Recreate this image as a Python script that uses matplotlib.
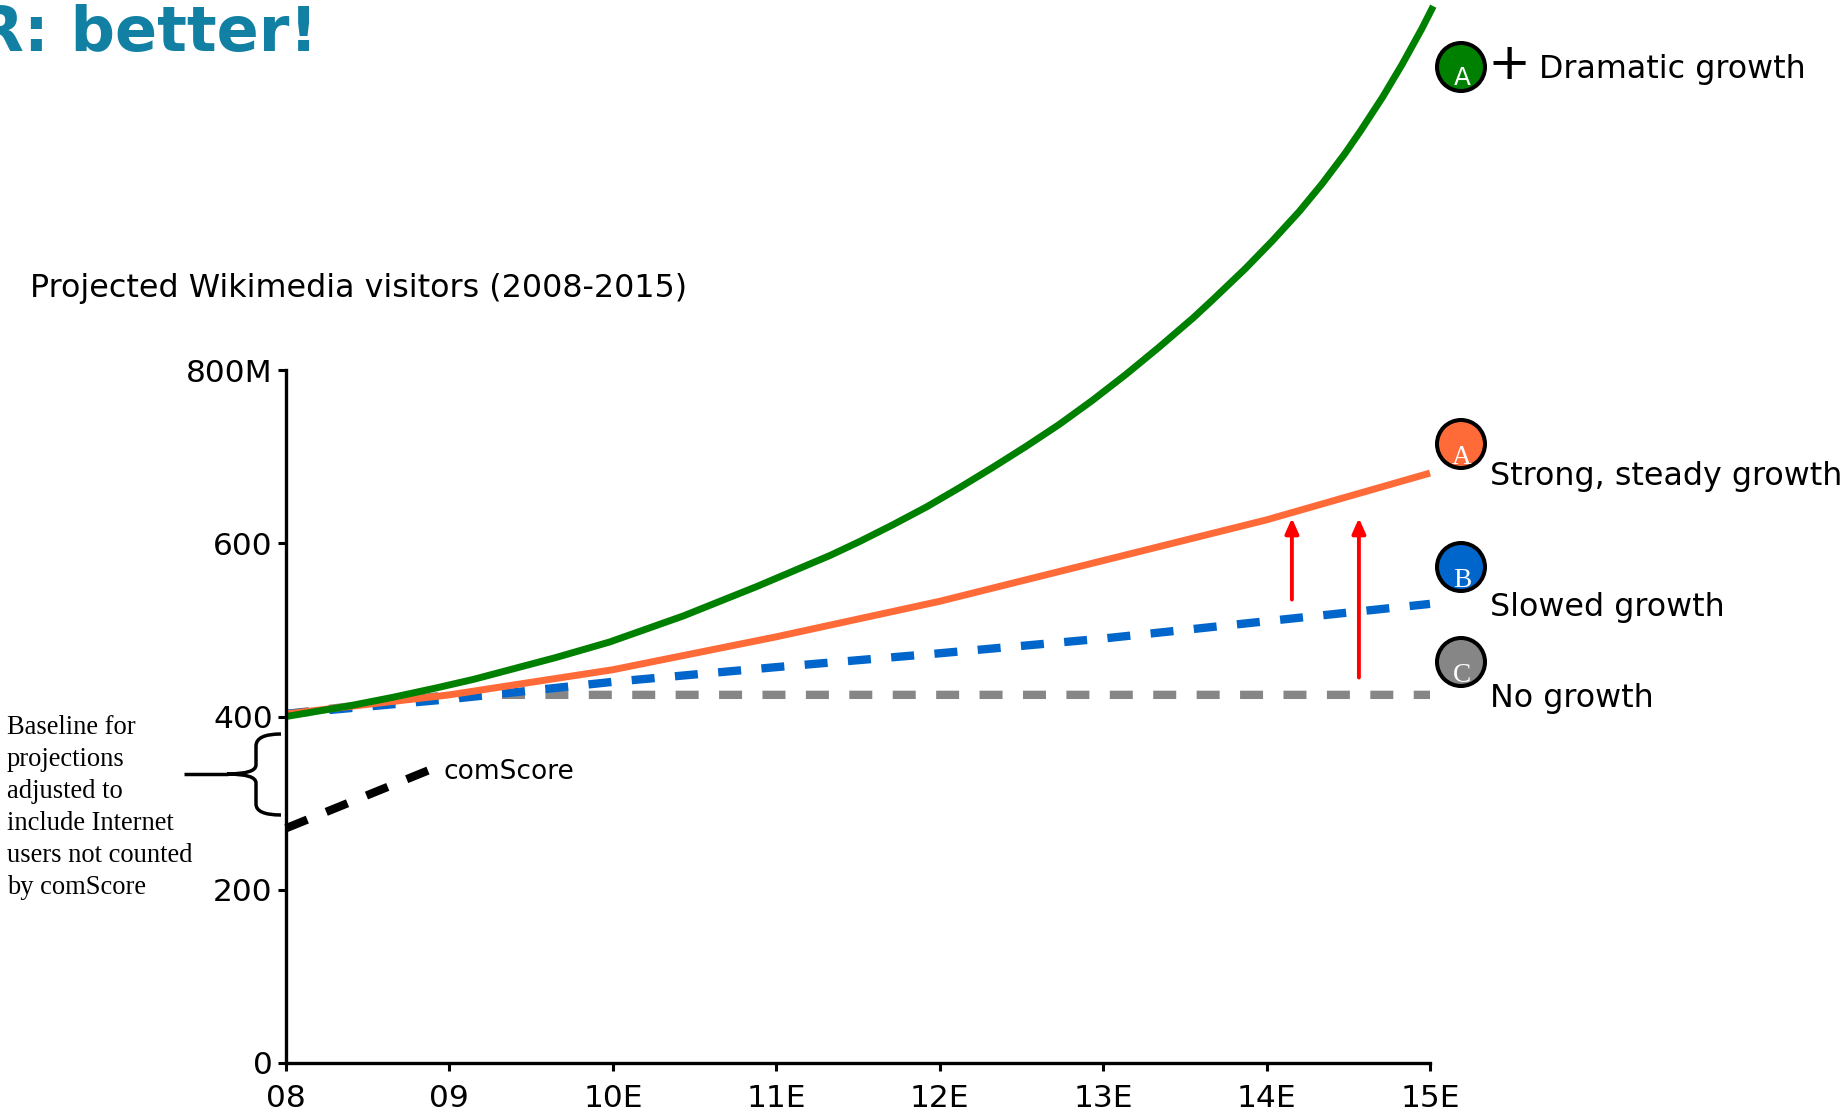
import matplotlib
matplotlib.use('Agg')
import matplotlib.pyplot as plt
from matplotlib.patches import PathPatch, Circle
from matplotlib.path import Path

W, H = 1849, 1115

# years on the x axis, 8 = 2008
years = [8, 9, 10, 11, 12, 13, 14, 15]
year_labels = ['08', '09', '10E', '11E', '12E', '13E', '14E', '15E']
y_ticks = [0, 200, 400, 600, 800]
y_labels = ['0', '200', '400', '600', '800M']

green_x = [8.0, 8.38, 8.65, 8.92, 9.15, 9.37, 9.65, 9.98, 10.43, 10.88, 11.33, 11.51, 11.71, 11.92, 12.12, 12.32,
           12.53, 12.73, 12.935, 13.14, 13.34, 13.55, 13.67, 13.87, 14.035, 14.2, 14.34, 14.48, 14.575,
           14.71, 14.83, 14.95, 15.02]
green_y = [400, 412, 422, 433, 443, 454, 468, 486, 516, 550, 586, 602, 621, 642, 664, 687,
           712, 737, 765, 795, 826, 860, 881, 917, 949, 983, 1015, 1050, 1076,
           1115, 1153, 1194, 1220]
orange_y = [403, 425, 454, 492, 533, 580, 627, 681]
blue_y = [403, 420, 440, 457, 473, 490, 510, 530]
grey_x = [8, 9, 15]
grey_y = [403, 425, 425]
comscore_x = [8, 8.9]
comscore_y = [271, 340]

GREEN = '#008000'
ORANGE = '#ff6a39'
BLUE = '#0066cc'
GREY = '#868686'
TEAL = '#1280a3'
DASH = (2.76, 2.45)


def px(x, y):
    # reference pixels to figure fraction
    return x / W, 1 - y / H


fig = plt.figure(figsize=(W / 100, H / 100), dpi=100)
ax = fig.add_axes([286 / W, (H - 1063) / H, (1430 - 286) / W, 693 / H])

ax.plot(grey_x, grey_y, color=GREY, lw=6, dashes=DASH, dash_capstyle='butt', clip_on=False)
ax.plot(years, blue_y, color=BLUE, lw=6, dashes=DASH, dash_capstyle='butt', clip_on=False)
ax.plot(years, orange_y, color=ORANGE, lw=5, clip_on=False, solid_capstyle='butt')
ax.plot(green_x, green_y, color=GREEN, lw=5, clip_on=False, solid_capstyle='butt')
ax.plot(comscore_x, comscore_y, color='black', lw=6, dashes=DASH, dash_capstyle='butt', clip_on=False)

# red arrows between scenarios
for ax_x, y0, y1 in [(14.155, 535, 629), (14.565, 445, 629)]:
    ax.annotate('', xy=(ax_x, y1), xytext=(ax_x, y0),
                arrowprops=dict(arrowstyle='-|>,head_length=0.45,head_width=0.2', color='red', lw=2.8,
                                shrinkA=0, shrinkB=0, mutation_scale=20))

ax.set_xlim(8, 15)
ax.set_ylim(0, 800)
ax.set_xticks(years)
ax.set_xticklabels(year_labels)
ax.set_yticks(y_ticks)
ax.set_yticklabels(y_labels)
ax.tick_params(axis='both', width=2.2, length=6, labelsize=22.5)
ax.tick_params(axis='x', pad=9)
ax.tick_params(axis='y', pad=3.5)
ax.spines['top'].set_visible(False)
ax.spines['right'].set_visible(False)
ax.spines['left'].set_linewidth(2.4)
ax.spines['bottom'].set_linewidth(2.4)

# heading cut off by the slide edge
fig.text(*px(318, 51.5), 'R: better!', color=TEAL, fontsize=44.7, fontweight='bold', ha='right', va='baseline')
fig.text(*px(30, 297), 'Projected Wikimedia visitors (2008-2015)', fontsize=22.9, va='baseline')
fig.text(*px(444, 779), 'comScore', fontsize=19, va='baseline')

note = ['Baseline for', 'projections', 'adjusted to', 'include Internet', 'users not counted', 'by comScore']
for i, line in enumerate(note):
    fig.text(*px(7, 734 + i * 32), line, fontsize=19.1, family='Liberation Serif', va='baseline')

# scenario markers
markers = [(1461, 67, GREEN, 'A', 18, 'DejaVu Sans', 17.7), (1461, 444, ORANGE, 'A', 20, 'Liberation Serif', 19.6),
           (1461, 567, BLUE, 'B', 20, 'Liberation Serif', 19.6), (1461, 662, GREY, 'C', 20, 'Liberation Serif', 19.6)]
for cx, cy, col, letter, drop, fam, size in markers:
    fig.add_artist(Circle((cx, H - cy), 24, facecolor=col, edgecolor='black', lw=2.9, transform=None))
    fig.text(*px(cx + 1, cy + drop), letter, color='white', fontsize=size, family=fam,
             ha='center', va='baseline')

fig.text(*px(1488, 79), '+', fontsize=37, va='baseline')
fig.text(*px(1539, 78), 'Dramatic growth', fontsize=22.9, va='baseline')
fig.text(*px(1490, 485), 'Strong, steady growth', fontsize=22.9, va='baseline')
fig.text(*px(1490, 616), 'Slowed growth', fontsize=22.9, va='baseline')
fig.text(*px(1490, 707), 'No growth', fontsize=22.9, va='baseline')

# brace joining comScore to the baseline
brace_pts = [(281, 734), (256, 734), (256, 746), (256, 765), (256, 774), (227, 774),
             (256, 774), (256, 783), (256, 804), (256, 815), (281, 815)]
brace_codes = [Path.MOVETO, Path.CURVE3, Path.CURVE3, Path.LINETO, Path.CURVE3, Path.CURVE3,
               Path.CURVE3, Path.CURVE3, Path.LINETO, Path.CURVE3, Path.CURVE3]
brace = Path([(x, H - y) for x, y in brace_pts], brace_codes)
fig.add_artist(PathPatch(brace, facecolor='none', edgecolor='black', lw=2.5, transform=None))
tail = Path([(184, H - 774), (228, H - 774)])
fig.add_artist(PathPatch(tail, facecolor='none', edgecolor='black', lw=2.5, transform=None))

fig.savefig('out.png', dpi=100)
